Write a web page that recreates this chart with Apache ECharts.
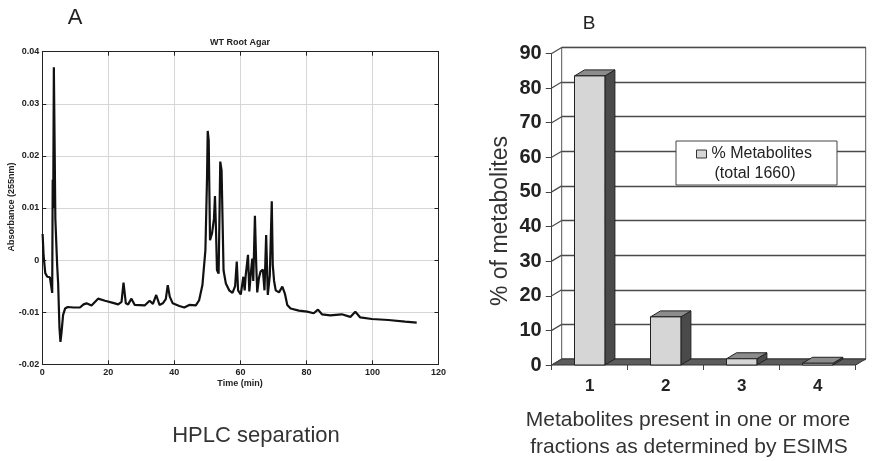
<!DOCTYPE html>
<html>
<head>
<meta charset="utf-8">
<script src="https://cdn.jsdelivr.net/npm/echarts@6/dist/echarts.min.js"></script>
<style>html,body{margin:0;padding:0;background:#fff}#c{width:876px;height:461px}</style>
</head>
<body>
<div id="c"></div>
<script>
// ---- Panel A: HPLC chromatogram (time in min, absorbance at 255 nm)
const hplcTime = [0.1,0.4,0.9,1.5,2.3,2.8,3.0,3.15,3.3,3.5,3.75,3.95,4.25,4.5,4.8,5.2,5.5,5.8,6.3,6.9,7.7,9.5,11.4,12.5,13.4,14.9,16.9,19,21.4,23,24.0,24.6,25.3,26,27,28,31,32.5,33.5,34.5,35.5,36.5,37.4,38.0,38.6,39.5,41.5,43,44.5,46.5,47.5,48.5,49.4,49.9,50.1,50.4,50.8,51.4,52.0,52.3,52.6,52.9,53.4,53.7,53.9,54.3,54.9,55.6,56.6,57.6,58.4,58.9,59.3,60.1,60.9,61.3,61.6,62.3,62.7,63.1,63.6,63.9,64.4,64.8,65.1,65.6,66.1,66.8,67.3,67.8,68.3,68.9,69.5,69.8,70.2,70.7,71.7,72.7,73.5,74.2,75.2,77.7,80.2,82.2,83.5,84.7,87.2,90.7,93.3,94.8,96.3,99.8,104.8,109.9,113.4];
const hplcAbs = [0.0050,0.0008,-0.0025,-0.0032,-0.0033,-0.0030,-0.0063,0.0154,0.0100,0.0370,0.0368,0.0080,0.0078,-0.0010,-0.0045,-0.0130,-0.0157,-0.0140,-0.0105,-0.0093,-0.0090,-0.0091,-0.0091,-0.0085,-0.0083,-0.0087,-0.0074,-0.0078,-0.0082,-0.0085,-0.0080,-0.0043,-0.0083,-0.0085,-0.0074,-0.0086,-0.0087,-0.0078,-0.0084,-0.0067,-0.0086,-0.0083,-0.0075,-0.0048,-0.0070,-0.0083,-0.0088,-0.0091,-0.0086,-0.0087,-0.0077,-0.0048,0.0019,0.0160,0.0248,0.0230,0.0038,0.0051,0.0080,0.0123,0.0060,-0.0019,-0.0026,0.0100,0.0189,0.0172,-0.0020,-0.0045,-0.0058,-0.0063,-0.0050,-0.0003,-0.0058,-0.0066,-0.0032,-0.0058,-0.0030,0.0010,-0.0060,-0.0030,0.0003,-0.0040,0.0085,-0.0010,-0.0062,-0.0035,-0.0022,-0.0018,-0.0058,0.0048,-0.0067,-0.0030,0.0113,-0.0009,-0.0040,-0.0058,-0.0062,-0.0051,-0.0065,-0.0086,-0.0093,-0.0097,-0.0099,-0.0102,-0.0095,-0.0104,-0.0106,-0.0104,-0.0109,-0.0099,-0.0110,-0.0113,-0.0115,-0.0118,-0.0120];

// ---- Panel B: % of metabolites by number of fractions
const fractionCats = ['1','2','3','4'];
const metabolitePct = [83.5, 13.9, 1.8, 0.5];
const pctTicks = [0,10,20,30,40,50,60,70,80,90];

const DX = 10, DY = -6;   // 3D depth offset
const FRONT = {left:551.7, top:53.4, width:304, height:311.6};
const BACK  = {left:FRONT.left+DX, top:FRONT.top+DY, width:304, height:311.6};

const chart = echarts.init(document.getElementById('c'), null, {renderer:'canvas'});
const smallFont = {fontFamily:'Liberation Sans', fontSize:9, fontWeight:'bold', color:'#222'};

const option = {
  animation:false,
  backgroundColor:'#fff',
  grid:[
    {left:42.3, top:51.7, width:396.2, height:312.6, containLabel:false},
    {left:FRONT.left, top:FRONT.top, width:FRONT.width, height:FRONT.height},
    {left:BACK.left, top:BACK.top, width:BACK.width, height:BACK.height, show:true, borderColor:'#555', borderWidth:1, backgroundColor:'#fff'}
  ],
  xAxis:[
    {gridIndex:0, type:'value', min:0, max:120, interval:20, position:'bottom',
     axisLine:{show:true,onZero:false,lineStyle:{color:'#222',width:1}},
     axisTick:{show:true,inside:true,length:4,lineStyle:{color:'#222'}},
     axisLabel:Object.assign({margin:4}, smallFont),
     splitLine:{show:true,lineStyle:{color:'#d6d6d6',width:1}}},
    {gridIndex:0, type:'value', min:0, max:120, interval:20, position:'top',
     axisLine:{show:true,onZero:false,lineStyle:{color:'#222',width:1}},
     axisTick:{show:true,inside:true,length:4,lineStyle:{color:'#222'}},
     axisLabel:{show:false}, splitLine:{show:false}},
    {gridIndex:1, type:'category', data:fractionCats, position:'bottom',
     axisLine:{show:false},
     axisTick:{show:true,length:5,lineStyle:{color:'#444',width:1}},
     axisLabel:{margin:13, fontFamily:'Liberation Sans', fontSize:17, fontWeight:'bold', color:'#222'},
     splitLine:{show:false}},
    {gridIndex:2, type:'category', data:fractionCats, show:false}
  ],
  yAxis:[
    {gridIndex:0, type:'value', min:-0.02, max:0.04, interval:0.01, position:'left',
     axisLine:{show:true,onZero:false,lineStyle:{color:'#222',width:1}},
     axisTick:{show:true,inside:true,length:4,lineStyle:{color:'#222'}},
     axisLabel:Object.assign({margin:3, formatter:v => Math.abs(v)<1e-9 ? '0' : v.toFixed(2)}, smallFont),
     splitLine:{show:true,lineStyle:{color:'#d6d6d6',width:1}}},
    {gridIndex:0, type:'value', min:-0.02, max:0.04, interval:0.01, position:'right',
     axisLine:{show:true,onZero:false,lineStyle:{color:'#222',width:1}},
     axisTick:{show:true,inside:true,length:4,lineStyle:{color:'#222'}},
     axisLabel:{show:false}, splitLine:{show:false}},
    {gridIndex:1, type:'value', min:0, max:90, interval:10, position:'left',
     axisLine:{show:true,lineStyle:{color:'#444',width:1}},
     axisTick:{show:true,length:6,lineStyle:{color:'#444',width:1}},
     axisLabel:{margin:10, fontFamily:'Liberation Sans', fontSize:20, fontWeight:'bold', color:'#222'},
     splitLine:{show:false}},
    {gridIndex:2, type:'value', min:0, max:90, interval:10, position:'left',
     axisLine:{show:false}, axisTick:{show:false}, axisLabel:{show:false},
     splitLine:{show:true,lineStyle:{color:'#4a4a4a',width:1.3}}}
  ],
  legend:{
    data:[{name:'% Metabolites', icon:'rect'}],
    left:696, top:146, padding:0, itemWidth:10, itemHeight:8, itemGap:6,
    textStyle:{fontFamily:'Liberation Sans', fontSize:16, color:'#222'},
    itemStyle:{borderColor:'#333', borderWidth:1}
  },
  series:[
    {type:'line', name:'WT Root Agar', xAxisIndex:0, yAxisIndex:0,
     data: hplcTime.map((t,i)=>[t, hplcAbs[i]]),
     symbol:'none', lineStyle:{color:'#111', width:2.2}, z:5},
    {type:'custom', name:'walls', xAxisIndex:2, yAxisIndex:2, clip:false, z:2,
     data: pctTicks.map(v=>[0,v]), encode:{x:0,y:1},
     renderItem:(params, api)=>{
       const cs = params.coordSys;
       const v = api.value(1);
       const y = api.coord([0, v])[1];
       const children = [];
       if (v === 0) {
         children.push({type:'polygon', shape:{points:[[cs.x,y],[cs.x+cs.width,y],[cs.x+cs.width+DX,y+DY],[cs.x+DX,y+DY]]},
           style:{fill:'#5c5c5c', stroke:'#333', lineWidth:1}});
       }
       children.push({type:'line', shape:{x1:cs.x, y1:y, x2:cs.x+DX, y2:y+DY}, style:{stroke:'#4a4a4a', lineWidth:1.2}});
       return {type:'group', children};
     }},
    {type:'custom', name:'% Metabolites', xAxisIndex:2, yAxisIndex:2, clip:false, z:3,
     itemStyle:{color:'#d6d6d6', borderColor:'#333'},
     data: metabolitePct.map((v,i)=>[i,v]), encode:{x:0,y:1},
     renderItem:(params, api)=>{
       const top = api.coord([api.value(0), api.value(1)]);
       const base = api.coord([api.value(0), 0]);
       const bw = api.size([1,0])[0]*0.4;
       const xl = top[0]-bw/2, xr = top[0]+bw/2, yt = top[1], yb = base[1];
       return {type:'group', children:[
         {type:'polygon', shape:{points:[[xr,yt],[xr+DX,yt+DY],[xr+DX,yb+DY],[xr,yb]]}, style:{fill:'#4a4a4a', stroke:'#222', lineWidth:1}},
         {type:'polygon', shape:{points:[[xl,yt],[xl+DX,yt+DY],[xr+DX,yt+DY],[xr,yt]]}, style:{fill:'#8c8c8c', stroke:'#222', lineWidth:1}},
         {type:'rect', shape:{x:xl, y:yt, width:bw, height:Math.max(yb-yt,0.5)}, style:{fill:'#d6d6d6', stroke:'#222', lineWidth:1}}
       ]};
     }}
  ],
  graphic:[
    {type:'text', x:75, y:18, style:{text:'A', align:'center', verticalAlign:'middle', font:'22px "Liberation Sans"', fill:'#222'}},
    {type:'text', x:240, y:42.5, style:{text:'WT Root Agar', align:'center', verticalAlign:'middle', font:'bold 9px "Liberation Sans"', fill:'#222'}},
    {type:'text', x:12, y:207, rotation:Math.PI/2, style:{text:'Absorbance (255nm)', align:'center', verticalAlign:'middle', font:'bold 9px "Liberation Sans"', fill:'#222'}},
    {type:'text', x:240, y:383.5, style:{text:'Time (min)', align:'center', verticalAlign:'middle', font:'bold 9px "Liberation Sans"', fill:'#222'}},
    {type:'text', x:256, y:436, style:{text:'HPLC separation', align:'center', verticalAlign:'middle', font:'22px "Liberation Sans"', fill:'#333'}},
    {type:'text', x:589, y:24, style:{text:'B', align:'center', verticalAlign:'middle', font:'19px "Liberation Sans"', fill:'#222'}},
    {type:'text', x:501, y:221, rotation:Math.PI/2, style:{text:'% of metabolites', align:'center', verticalAlign:'middle', font:'23px "Liberation Sans"', fill:'#333'}},
    {type:'text', x:688, y:420, style:{text:'Metabolites present in one or more', align:'center', verticalAlign:'middle', font:'21px "Liberation Sans"', fill:'#333'}},
    {type:'text', x:689, y:447, style:{text:'fractions as determined by ESIMS', align:'center', verticalAlign:'middle', font:'21px "Liberation Sans"', fill:'#333'}},
    {type:'rect', shape:{x:676, y:141, width:161, height:44}, style:{fill:'#fff', stroke:'#444', lineWidth:1}, z:4},
    {type:'text', x:755, y:174, style:{text:'(total 1660)', align:'center', verticalAlign:'middle', font:'16px "Liberation Sans"', fill:'#222'}, z:6}
  ]
};
chart.setOption(option);
</script>
</body>
</html>
